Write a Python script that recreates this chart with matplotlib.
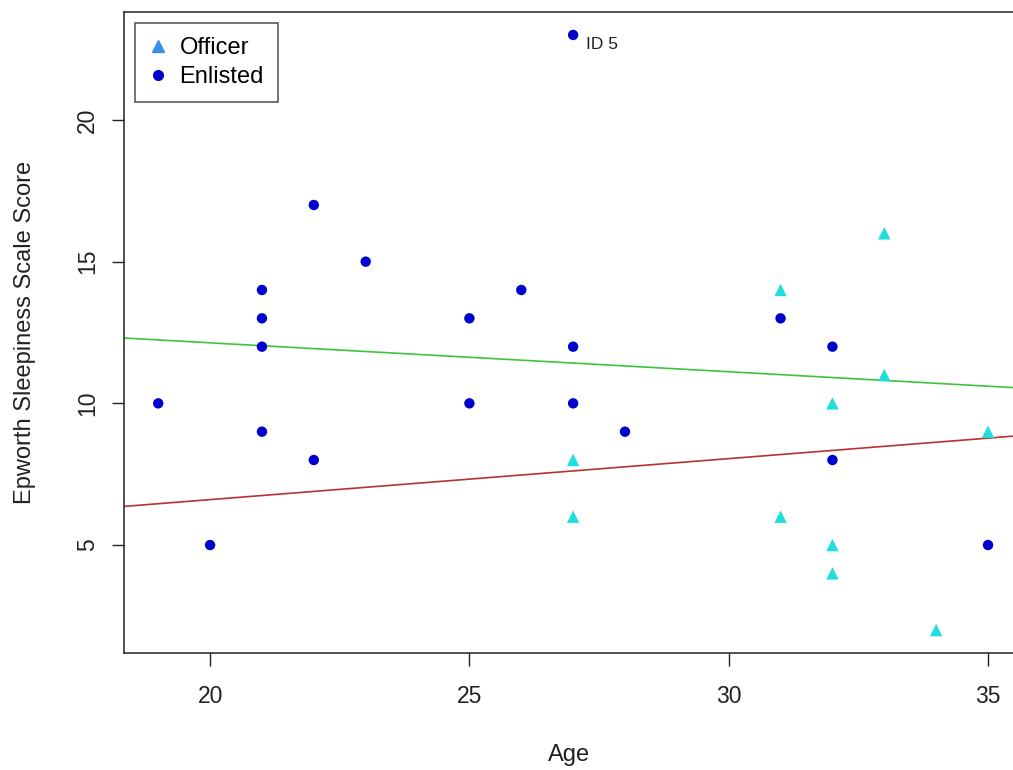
import numpy as np
import matplotlib
matplotlib.use("Agg")
import matplotlib.pyplot as plt
from matplotlib.lines import Line2D

plt.rcParams['font.family'] = ['Liberation Sans', 'DejaVu Sans']

enlisted_age = [19, 20, 21, 21, 21, 21, 22, 22, 23, 25, 25, 26, 27, 27, 27, 28, 31, 32, 32, 35]
enlisted_ess = [10, 5, 14, 13, 12, 9, 17, 8, 15, 13, 10, 14, 23, 12, 10, 9, 13, 12, 8, 5]
officer_age = [27, 27, 31, 31, 32, 32, 32, 33, 33, 34, 35]
officer_ess = [8, 6, 14, 6, 10, 5, 4, 16, 11, 2, 9]
outlier_label = "ID 5"
outlier_xy = (27, 23)
x_ticks = [20, 25, 30, 35]
y_ticks = [5, 10, 15, 20]

fig = plt.figure(figsize=(10.13, 7.70), dpi=100)
ax = fig.add_axes([124/1013, 117/770, (1015-124)/1013, (653-12)/770])

ax.set_xlim(18.34, 35.52)
ax.set_ylim(1.19, 23.81)

# regression lines
xs = np.array(ax.get_xlim())
ce = np.polyfit(enlisted_age, enlisted_ess, 1)
co = np.polyfit(officer_age, officer_ess, 1)
ax.plot(xs, np.polyval(ce, xs), color='#3cc43c', lw=1.2, zorder=2)
ax.plot(xs, np.polyval(co, xs), color='#b83232', lw=1.2, zorder=2)

ax.scatter(officer_age, officer_ess, marker='^', s=80, color='#22dde0', edgecolors='none', zorder=3)
ax.scatter(enlisted_age, enlisted_ess, marker='o', s=56, color='#0000cd', edgecolors='none', zorder=3)

ax.annotate(outlier_label, xy=outlier_xy, xytext=(9, -7), textcoords='offset points',
            fontsize=12.5, color='#222222', ha='left', va='center')

ax.set_xticks(x_ticks)
ax.set_yticks(y_ticks)
ax.tick_params(axis='both', length=9, width=1, labelsize=16.5, colors='#222222', direction='out')
ax.tick_params(axis='x', pad=14)
ax.tick_params(axis='y', pad=9)
for lab in ax.get_yticklabels():
    lab.set_rotation(90)
    lab.set_va('center')
for s in ax.spines.values():
    s.set_linewidth(1.1)
    s.set_color('#222222')

ax.set_xlabel('Age', fontsize=17, labelpad=26, color='#222222')
ax.set_ylabel('Epworth Sleepiness Scale Score', fontsize=17, labelpad=29, color='#222222')

handles = [Line2D([], [], marker='^', ls='none', color='#3a8ee6', markersize=8.5),
           Line2D([], [], marker='o', ls='none', color='#0000cd', markersize=7)]
leg = ax.legend(handles, ['Officer', 'Enlisted'], loc='upper left', fontsize=17,
                frameon=True, fancybox=False, edgecolor='#222222', handlelength=0.8,
                handletextpad=0.5, borderpad=0.6, labelspacing=0.3, borderaxespad=0.45)
leg.get_frame().set_linewidth(1.1)

fig.savefig('out.png', dpi=100)
